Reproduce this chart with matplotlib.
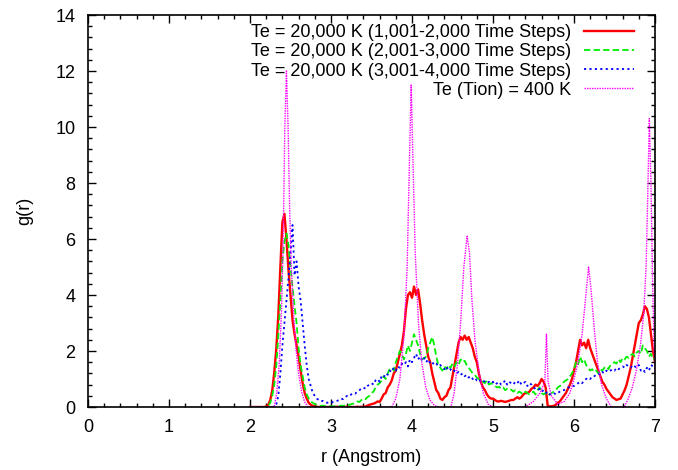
import numpy as np
import matplotlib
matplotlib.use("Agg")
import matplotlib.pyplot as plt
from matplotlib.ticker import MultipleLocator

# r grid for the three Te = 20,000 K series (2.0 .. 7.0, step 0.025)
r_grid = np.round(np.arange(2.0, 7.0001, 0.025), 3)

g_1001_2000 = [
    0, 0, 0, 0, 0, 0, 0, 0, 0.02, 0.08,
    0.25, 0.6, 1.25, 2.1, 3.3, 5.0, 6.6, 6.9, 6.0, 4.9,
    4.0, 3.1, 2.6, 2.2, 1.8, 1.3, 0.85, 0.5, 0.3, 0.15,
    0.08, 0.04, 0.02, 0.01, 0, 0, 0.01, 0, 0, 0,
    0, 0, 0, 0.01, 0, 0, 0, 0, 0.01, 0,
    0, 0, 0, 0.01, 0, 0.01, 0, 0.02, 0.05, 0.08,
    0.1, 0.12, 0.15, 0.2, 0.18, 0.3, 0.45, 0.5, 0.7, 0.8,
    0.95, 1.2, 1.3, 1.6, 1.9, 2.2, 2.7, 3.5, 4.0, 4.1,
    3.9, 4.3, 4.0, 4.2, 3.7, 3.1, 2.6, 2.2, 1.8, 1.6,
    1.2, 0.9, 0.6, 0.5, 0.3, 0.25, 0.35, 0.4, 0.6, 0.7,
    1.1, 1.5, 1.9, 2.3, 2.5, 2.4, 2.55, 2.4, 2.5, 2.3,
    2.1, 1.8, 1.6, 1.2, 0.9, 0.7, 0.6, 0.45, 0.35, 0.3,
    0.3, 0.25, 0.2, 0.2, 0.22, 0.2, 0.18, 0.2, 0.22, 0.25,
    0.25, 0.3, 0.35, 0.3, 0.35, 0.45, 0.5, 0.5, 0.55, 0.65,
    0.7, 0.8, 0.75, 0.85, 1.0, 0.9, 0.7, 0.05, 0.02, 0.03,
    0.04, 0.08, 0.15, 0.2, 0.3, 0.4, 0.5, 0.65, 0.8, 1.0,
    1.3, 1.6, 2.0, 2.4, 2.2, 2.3, 2.1, 2.4, 2.1, 1.9,
    1.7, 1.5, 1.3, 1.1, 0.9, 0.8, 0.65, 0.55, 0.45, 0.35,
    0.3, 0.25, 0.28, 0.3, 0.45, 0.6, 0.8, 1.1, 1.4, 1.8,
    2.2, 2.6, 3.0, 3.1, 3.3, 3.6, 3.5, 3.2, 2.6, 2.0,
    1.6,
]

g_2001_3000 = [
    0, 0, 0, 0, 0, 0, 0, 0, 0.01, 0.05,
    0.15, 0.4, 0.8, 1.5, 2.6, 3.8, 5.2, 5.9, 6.2, 5.8,
    5.0, 4.3, 3.6, 3.0, 2.1, 1.5, 1.1, 0.7, 0.45, 0.3,
    0.2, 0.15, 0.1, 0.08, 0.05, 0.04, 0.05, 0.03, 0.04, 0.03,
    0.03, 0.02, 0.03, 0.04, 0.03, 0.05, 0.04, 0.06, 0.05, 0.08,
    0.1, 0.12, 0.15, 0.2, 0.18, 0.25, 0.3, 0.28, 0.35, 0.4,
    0.5, 0.55, 0.7, 0.8, 0.85, 0.95, 1.1, 1.0, 1.2, 1.35,
    1.4, 1.3, 1.6, 1.8, 2.0, 1.9, 1.7, 1.9, 2.2, 2.0,
    2.3, 2.6, 2.4, 2.2, 1.9, 1.7, 1.75, 1.8, 2.1, 2.3,
    2.5, 2.2, 1.8, 1.5, 1.4, 1.3, 1.45, 1.35, 1.5, 1.4,
    1.55, 1.45, 1.6, 1.5, 1.7, 1.6, 1.65, 1.5, 1.4, 1.3,
    1.2, 1.15, 1.05, 1.0, 0.95, 0.9, 0.85, 0.95, 0.8, 0.85,
    0.8, 0.75, 0.7, 0.72, 0.65, 0.7, 0.6, 0.65, 0.6, 0.62,
    0.55, 0.6, 0.5, 0.55, 0.5, 0.45, 0.55, 0.5, 0.45, 0.5,
    0.55, 0.45, 0.6, 0.7, 0.5, 0.45, 0.5, 0.4, 0.45, 0.5,
    0.55, 0.6, 0.7, 0.75, 0.8, 0.9, 0.95, 1.0, 1.1, 1.2,
    1.35, 1.6, 1.5, 1.8, 1.6, 1.7, 1.5, 1.4, 1.3, 1.35,
    1.25, 1.3, 1.2, 1.35, 1.3, 1.4, 1.45, 1.35, 1.5, 1.55,
    1.6, 1.55, 1.7, 1.6, 1.75, 1.7, 1.8, 1.75, 1.85, 1.9,
    1.8, 1.95, 2.0, 1.9, 2.2, 2.1, 2.0, 1.8, 1.9, 1.7,
    1.75,
]

g_3001_4000 = [
    0, 0, 0, 0, 0, 0, 0, 0, 0, 0,
    0, 0, 0.02, 0.1, 0.4, 1.2, 2.2, 3.0, 3.8, 4.6,
    5.5, 6.5, 4.7, 5.2, 4.3, 3.8, 3.0, 2.2, 1.5, 1.0,
    0.75, 0.5, 0.4, 0.3, 0.25, 0.2, 0.22, 0.18, 0.15, 0.17,
    0.15, 0.18, 0.2, 0.22, 0.25, 0.3, 0.28, 0.35, 0.4, 0.38,
    0.45, 0.5, 0.48, 0.55, 0.6, 0.65, 0.7, 0.65, 0.75, 0.8,
    0.85, 0.8, 0.95, 1.0, 0.9, 1.1, 1.05, 1.2, 1.15, 1.3,
    1.25, 1.4, 1.3, 1.45, 1.4, 1.55, 1.5, 1.6, 1.45, 1.7,
    1.6, 1.75, 1.9, 1.7, 1.8, 1.65, 1.75, 1.6, 1.7, 1.55,
    1.6, 1.5, 1.55, 1.45, 1.5, 1.4, 1.35, 1.45, 1.3, 1.35,
    1.25, 1.3, 1.2, 1.25, 1.15, 1.2, 1.1, 1.15, 1.05, 1.1,
    1.0, 1.05, 0.95, 1.0, 0.9, 0.95, 0.9, 0.85, 0.9, 0.85,
    0.9, 0.8, 0.85, 0.9, 0.8, 0.85, 0.95, 0.8, 0.9, 0.85,
    0.8, 0.9, 0.85, 0.95, 0.8, 0.85, 0.9, 0.75, 0.85, 0.8,
    0.7, 0.65, 0.6, 0.65, 0.55, 0.6, 0.5, 0.55, 0.45, 0.5,
    0.5, 0.45, 0.5, 0.55, 0.6, 0.6, 0.65, 0.7, 0.7, 0.75,
    0.75, 0.8, 0.85, 0.9, 0.85, 0.95, 1.0, 1.05, 1.0, 1.1,
    1.1, 1.15, 1.2, 1.15, 1.25, 1.2, 1.3, 1.25, 1.3, 1.35,
    1.3, 1.4, 1.35, 1.4, 1.45, 1.4, 1.5, 1.45, 1.4, 1.5,
    1.45, 1.4, 1.5, 1.3, 1.35, 1.25, 1.4, 1.3, 1.5, 1.45,
    1.5,
]

# Te (Tion) = 400 K: sharp peaks, its own r samples
r_400K = [
    2.0, 2.30, 2.33, 2.36, 2.39, 2.41, 2.43, 2.45, 2.47, 2.49, 2.51, 2.54, 2.57, 2.60, 2.64, 2.68, 2.72,
    3.75, 3.80, 3.85, 3.90, 3.94, 3.97, 3.99, 4.01, 4.04, 4.08, 4.12, 4.17, 4.22, 4.28, 4.33,
    4.48, 4.52, 4.56, 4.60, 4.64, 4.68, 4.71, 4.74, 4.78, 4.83, 4.88, 4.94, 5.00,
    5.40, 5.50, 5.58, 5.64, 5.66, 5.68, 5.72, 5.80,
    5.88, 5.95, 6.00, 6.05, 6.10, 6.14, 6.18, 6.21, 6.25, 6.29, 6.34, 6.40, 6.46,
    6.62, 6.67, 6.72, 6.77, 6.82, 6.86, 6.89, 6.91, 6.93, 6.95, 6.97, 6.99, 7.00,
]
g_400K = [
    0, 0, 0.5, 1.5, 3.5, 6.0, 10.0, 12.0, 10.0, 7.0, 5.0, 3.2, 2.0, 1.2, 0.5, 0.15, 0,
    0, 0.3, 1.0, 2.5, 5.0, 9.0, 11.5, 9.0, 5.5, 3.0, 1.6, 0.7, 0.25, 0.05, 0,
    0, 0.5, 1.5, 3.0, 5.0, 6.1, 5.5, 3.8, 2.3, 1.2, 0.5, 0.1, 0,
    0, 0.2, 0.5, 0.9, 2.6, 0.9, 0.4, 0.1,
    0.2, 0.5, 1.0, 1.6, 2.6, 3.8, 5.0, 4.2, 2.8, 1.6, 0.8, 0.3, 0,
    0, 0.3, 0.7, 1.3, 2.2, 3.3, 5.0, 7.5, 10.3, 8.0, 4.5, 2.0, 1.2,
]

labels = [
    "Te = 20,000 K (1,001-2,000 Time Steps)",
    "Te = 20,000 K (2,001-3,000 Time Steps)",
    "Te = 20,000 K (3,001-4,000 Time Steps)",
    "Te (Tion) = 400 K",
]

plt.rcParams['font.family'] = ['Liberation Sans', 'DejaVu Sans']

fig = plt.figure(figsize=(6.78, 4.70), dpi=100)
ax = fig.add_axes([88/678, 63/470, 567/678, 392/470])

ax.plot(r_grid, g_1001_2000, color='#ff0000', lw=1.7, ls='-', label=labels[0])
ax.plot(r_grid, g_2001_3000, color='#00ee00', lw=1.3, ls=(0, (3.5, 1.8)), label=labels[1])
ax.plot(r_grid, g_3001_4000, color='#0000ff', lw=1.3, ls=(0, (1.2, 1.8)), label=labels[2])
ax.plot(r_400K, g_400K, color='#ff00ff', lw=1.0, ls=(0, (1, 0.8)), label=labels[3])

ax.set_xlim(0, 7)
ax.set_ylim(0, 14)
ax.xaxis.set_major_locator(MultipleLocator(1))
ax.xaxis.set_minor_locator(MultipleLocator(0.2))
ax.yaxis.set_major_locator(MultipleLocator(2))
ax.yaxis.set_minor_locator(MultipleLocator(0.4))
ax.tick_params(which='both', direction='in', top=True, right=True, width=1.0, labelsize=13)
ax.tick_params(which='major', length=6, pad=9)
ax.tick_params(which='minor', length=3)
for s in ax.spines.values():
    s.set_linewidth(1.2)

ax.set_xlabel("r (Angstrom)", fontsize=13, labelpad=9)
ax.set_ylabel("g(r)", fontsize=13, labelpad=16)

leg = ax.legend(loc='upper right', frameon=False, markerfirst=False, fontsize=13,
                handlelength=2.8, handletextpad=0.7, labelspacing=0.12,
                borderaxespad=0.0, bbox_to_anchor=(0.976, 0.995))

fig.savefig("out.png", dpi=100)
